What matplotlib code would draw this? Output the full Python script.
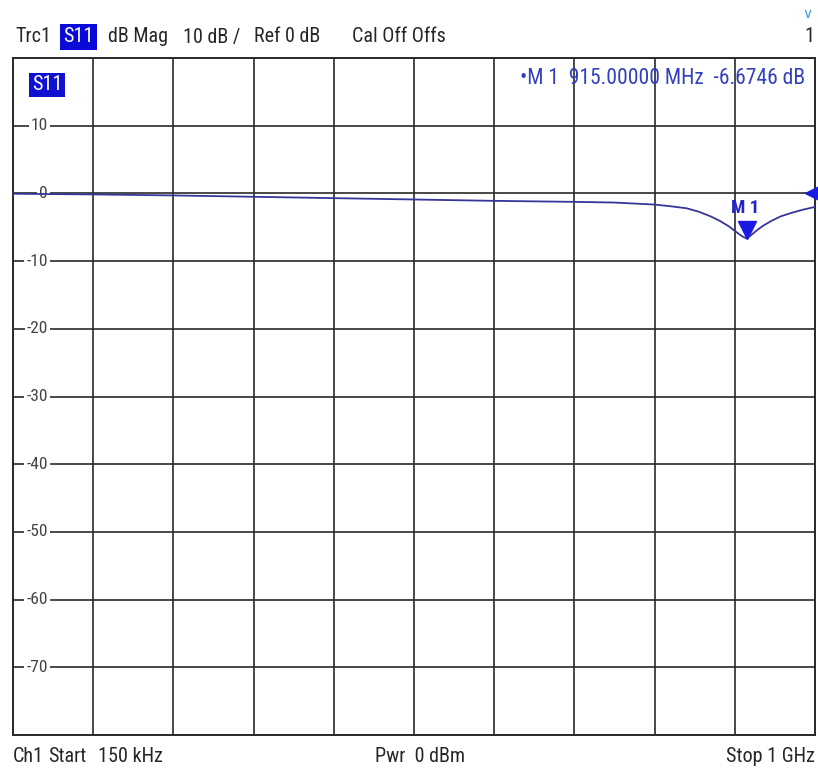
import matplotlib
matplotlib.use('Agg')
import matplotlib.pyplot as plt
import matplotlib.transforms as mtransforms
from matplotlib import font_manager
import numpy as np

# a narrow sans face suits the analyser screen best, if one is installed
names = {f.name for f in font_manager.fontManager.ttflist}
base_font = 'Liberation Sans'
for cand in ['Liberation Sans Narrow', 'Roboto Condensed', 'Arial Narrow',
             'Open Sans Condensed', 'Noto Sans Condensed']:
    if cand in names:
        base_font = cand
        break
plt.rcParams['font.family'] = [base_font, 'DejaVu Sans']

freq_mhz = [0.15, 50, 100, 200, 300, 400, 500, 600, 700, 750, 800, 820, 840,
            855, 870, 882, 893, 903, 910, 915, 920, 927, 935, 945, 957, 970,
            985, 1000]
s11_db = [-0.05, -0.1, -0.15, -0.3, -0.5, -0.7, -0.9, -1.1, -1.25, -1.35,
          -1.65, -1.9, -2.2, -2.7, -3.4, -4.1, -4.9, -5.8, -6.4, -6.67,
          -6.2, -5.5, -4.8, -4.1, -3.4, -2.9, -2.4, -2.0]

start_mhz = 0.15
stop_mhz = 1000.0
ref_db = 20
bottom_db = -80
y_labels = [10, 0, -10, -20, -30, -40, -50, -60, -70]
marker_freq = 915.0
marker_db = -6.6746

W, H = 818, 769
fig = plt.figure(figsize=(W / 100, H / 100), dpi=100)
fig.patch.set_facecolor('white')
ax = fig.add_axes([13 / W, 1 - 735 / H, 802 / W, 677 / H])
ax.set_xlim(start_mhz, stop_mhz)
ax.set_ylim(bottom_db, ref_db)

grid_col = '#2a2a2a'
ax.set_xticks(np.linspace(start_mhz, stop_mhz, 11))
ax.set_yticks(np.arange(bottom_db, ref_db + 1, 10))
ax.grid(True, color=grid_col, lw=1.2)
ax.tick_params(length=0, labelbottom=False, labelleft=False)
for s in ax.spines.values():
    s.set_color(grid_col)
    s.set_linewidth(1.4)

# y labels sitting on the grid lines
lab_tr = mtransforms.blended_transform_factory(ax.transAxes, ax.transData)
for v in y_labels:
    ax.text(35 / 802, v, str(v), transform=lab_tr, ha='right', va='center',
            fontsize=12.5, color='#444444', zorder=3,
            bbox=dict(facecolor='white', edgecolor='none', pad=1.5))

# trace
ax.plot(freq_mhz, s11_db, color='#35359a', lw=1.3, zorder=4)

# marker M1
off = mtransforms.offset_copy(ax.transData, fig=fig, y=6.5, units='points')
ax.plot([marker_freq], [marker_db], marker='v', ms=13, color='#1a1ae0',
        transform=off, zorder=5, clip_on=False)
ax.annotate('M 1', (marker_freq, marker_db), xytext=(-1, 22),
            textcoords='offset points', ha='center', va='center',
            fontsize=13.5, fontweight='bold', color='#2222cc', zorder=5)

# reference level arrow at right edge
ax.plot([stop_mhz], [0], marker='<', ms=15, color='#1a1ae0', clip_on=False,
        zorder=6)

# trace label inside the diagram
ax.text(19 / 802, 1 - 27 / 677, 'S11', transform=ax.transAxes, ha='left',
        va='center', fontsize=14.5, color='white', zorder=6,
        bbox=dict(facecolor='#1010d0', edgecolor='none', pad=2))

# marker readout
ax.text(1 - 10 / 802, 1 - 21 / 677,
        '\u2022M 1  915.00000 MHz  -6.6746 dB',
        transform=ax.transAxes, ha='right', va='center', fontsize=15.5,
        color='#3040c0', zorder=2)

# header line
hdr_y = 1 - 37 / H
fs = 14.5
txt_col = '#262626'
fig.text(15 / W, hdr_y, 'Trc1', fontsize=fs, color=txt_col, va='center')
fig.text(63 / W, hdr_y, 'S11', fontsize=fs, color='white', va='center',
         bbox=dict(facecolor='#0a0ad8', edgecolor='none', pad=2.5))
fig.text(108 / W, hdr_y, 'dB Mag', fontsize=fs, color=txt_col, va='center')
fig.text(183 / W, hdr_y, '10 dB /', fontsize=fs, color=txt_col, va='center')
fig.text(254 / W, hdr_y, 'Ref 0 dB', fontsize=fs, color=txt_col, va='center')
fig.text(352 / W, hdr_y, 'Cal Off Offs', fontsize=fs, color=txt_col,
         va='center')
fig.text(814 / W, 1 - 36 / H, '1', fontsize=fs, color=txt_col, va='center',
         ha='right')
fig.text(807 / W, 1 - 14 / H, '\u2228', fontsize=10, color='#4a9ad8',
         va='center', ha='center', family='DejaVu Sans')

# footer line
ftr_y = 1 - 757 / H
fig.text(13 / W, ftr_y, 'Ch1', fontsize=fs, color=txt_col, va='center')
fig.text(48 / W, ftr_y, 'Start', fontsize=fs, color=txt_col, va='center')
fig.text(98 / W, ftr_y, '150 kHz', fontsize=fs, color=txt_col, va='center')
fig.text(375 / W, ftr_y, 'Pwr  0 dBm', fontsize=fs, color=txt_col,
         va='center')
fig.text(815 / W, ftr_y, 'Stop 1 GHz', fontsize=fs, color=txt_col,
         va='center', ha='right')

fig.savefig('out.png', dpi=100, facecolor='white')
